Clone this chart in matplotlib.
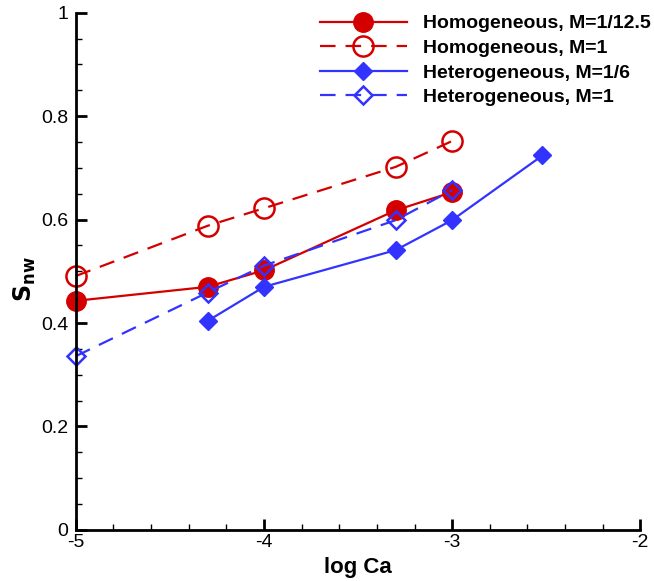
import matplotlib.pyplot as plt
import numpy as np
from matplotlib.ticker import MultipleLocator, FormatStrFormatter

plt.rcParams['font.family'] = ['Liberation Sans', 'DejaVu Sans']

# data
x_hom = [-5, -4.3, -4, -3.3, -3]
hom_m125 = [0.443, 0.470, 0.502, 0.618, 0.653]
hom_m1 = [0.491, 0.588, 0.622, 0.702, 0.752]

x_het6 = [-4.3, -4, -3.3, -3, -2.52]
het_m6 = [0.404, 0.470, 0.541, 0.599, 0.724]
x_het1 = [-5, -4.3, -4, -3.3, -3]
het_m1 = [0.336, 0.459, 0.511, 0.599, 0.657]

labels = ['Homogeneous, M=1/12.5', 'Homogeneous, M=1',
          'Heterogeneous, M=1/6', 'Heterogeneous, M=1']

red = '#d40000'
blue = '#3333ff'
dash = (7, 4.5)
lw = 1.6

fig = plt.figure(figsize=(6.54, 5.81), dpi=100)
ax = fig.add_axes([0.116, 0.088, 0.863, 0.89])

ax.plot(x_hom, hom_m125, '-', color=red, lw=lw, marker='o', ms=14,
        mfc=red, mec=red, label=labels[0], clip_on=False)
ax.plot(x_hom, hom_m1, '--', color=red, lw=lw, marker='o', ms=14.5,
        mfc='none', mec=red, mew=1.8, dashes=dash, label=labels[1], clip_on=False)
ax.plot(x_het6, het_m6, '-', color=blue, lw=lw, marker='D', ms=9,
        mfc=blue, mec=blue, label=labels[2], clip_on=False)
ax.plot(x_het1, het_m1, '--', color=blue, lw=lw, marker='D', ms=9.5,
        mfc='none', mec=blue, mew=1.8, dashes=dash, label=labels[3], clip_on=False)

ax.set_xlim(-5, -2)
ax.set_ylim(0, 1)
ax.xaxis.set_major_locator(MultipleLocator(1))
ax.xaxis.set_minor_locator(MultipleLocator(0.2))
ax.yaxis.set_major_locator(MultipleLocator(0.2))
ax.yaxis.set_minor_locator(MultipleLocator(0.05))
ax.xaxis.set_major_formatter(FormatStrFormatter('%g'))
ax.yaxis.set_major_formatter(FormatStrFormatter('%g'))

ax.spines['top'].set_visible(False)
ax.spines['right'].set_visible(False)
ax.spines['left'].set_linewidth(2)
ax.spines['bottom'].set_linewidth(2)
ax.tick_params(which='major', direction='in', length=8, width=2, labelsize=14)
ax.tick_params(axis='y', which='major', pad=5.5)
ax.tick_params(axis='x', which='major', pad=3)
ax.tick_params(which='minor', direction='in', length=4.5, width=1)

ax.set_xlabel('log Ca', fontsize=16, fontweight='bold')
ax.xaxis.set_label_coords(0.5, -0.053)
ax.set_ylabel(r'$\mathbf{S_{nw}}$', fontsize=17)
ax.yaxis.set_label_coords(-0.067, 0.484)

ax.legend(loc='upper right', bbox_to_anchor=(1.049, 1.03), frameon=False,
          numpoints=1, handlelength=4.5, handletextpad=0.8, labelspacing=0.36,
          prop={'size': 14, 'weight': 'bold'})

fig.savefig('out.png', dpi=100)
